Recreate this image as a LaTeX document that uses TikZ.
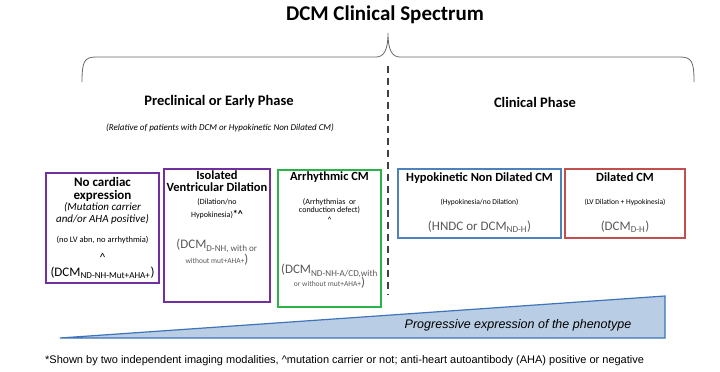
\documentclass[tikz,border=0pt]{standalone}
\usepackage{fontspec}
\setmainfont{Carlito}
\newfontfamily\arialfont{Liberation Sans}
\usetikzlibrary{positioning}

\definecolor{dcmpurple}{HTML}{7030A0}
\definecolor{dcmgreen}{HTML}{2DB24A}
\definecolor{dcmblue}{HTML}{4F81BD}
\definecolor{dcmred}{HTML}{C0504D}
\definecolor{dcmgray}{HTML}{595959}
\definecolor{trifill}{HTML}{B9CDE5}
\definecolor{triedge}{HTML}{3F74B8}

\newcommand{\fsize}[2]{\fontsize{#1}{#2}\selectfont}

\begin{document}
\begin{tikzpicture}[x=1pt,y=-1pt,
    stagebox/.style={draw=#1, line width=1.6pt, inner sep=0pt},
    txt/.style={inner sep=0pt, align=center},
    divider/.style={line width=2pt, color=black!75, dash pattern=on 7pt off 5pt}]
    \fill[white] (0,0) rectangle (720,372);
    \useasboundingbox (0,0) rectangle (720,372);

    % title and brace
    \node[txt, font=\fsize{21}{24}\bfseries] (title) at (385,15) {DCM Clinical Spectrum};
    \draw[color=black!60, line width=0.8pt] (82,82) .. controls (82,62) and (84,57) .. (96,57)
        -- (376,57) .. controls (384,57) and (388,50) .. (388,33)
        .. controls (388,50) and (392,57) .. (400,57) -- (680,57)
        .. controls (692,57) and (694,62) .. (694,82);

    \node[txt, font=\fsize{14.5}{16}\bfseries] (early) at (219,102) {Preclinical or Early Phase};
    \node[txt, font=\fsize{14.5}{16}\bfseries] (clinical) at (535,102) {Clinical Phase};
    \node[txt, font=\fsize{9}{10}\itshape] (relative) at (220,128)
        {(Relative of patients with DCM or Hypokinetic Non Dilated CM)};

    \coordinate (divtop) at (388,66);
    \coordinate (divbot) at (388,295);
    \draw[divider] (divtop) -- (divbot);

    % stages
    \node[stagebox=dcmpurple, minimum width=113, minimum height=110] (noexpr) at (102.5,228) {};
    \node[stagebox=dcmpurple, minimum width=106, minimum height=133] (ivd) at (217,235.5) {};
    \node[stagebox=dcmgreen, minimum width=103, minimum height=137] (acm) at (329.5,238.5) {};
    \node[stagebox=dcmblue, minimum width=163, minimum height=69] (hndc) at (479.5,203.5) {};
    \node[stagebox=dcmred, minimum width=120, minimum height=69] (dcm) at (625,203.5) {};

    \node[txt, font=\fsize{13}{13}\bfseries] at (102.5,189.5) {No cardiac\\expression};
    \node[txt, font=\fsize{11}{11.5}\itshape] at (102.5,213.5) {(Mutation carrier\\and/or AHA positive)};
    \node[txt, font=\fsize{8.5}{9}] at (102.5,240) {(no LV abn, no arrhythmia)};
    \node[txt, font=\fsize{12}{12}] at (102.5,257) {\textasciicircum};
    \node[txt, font=\fsize{13}{13}] at (102.5,273) {(DCM\textsubscript{ND-NH-Mut+AHA+})};

    \node[txt, font=\fsize{12.5}{12}\bfseries] at (217,181) {Isolated\\Ventricular Dilation};
    \node[txt, font=\fsize{8}{13}] at (217,208.5) {(Dilation/no\\Hypokinesia){\fsize{10}{10}\bfseries*\textasciicircum}};
    \node[txt, font=\fsize{13}{15}, color=dcmgray] at (217,252.5)
        {(DCM\textsubscript{D-NH, with or}\\{\fsize{7.5}{8}without mut+AHA+})};

    \node[txt, font=\fsize{12.5}{12}\bfseries] at (329.5,177) {Arrhythmic CM};
    \node[txt, font=\fsize{8}{8.5}] at (329.5,206) {(Arrhythmias~ or\\conduction defect)};
    \node[txt, font=\fsize{8}{8}] at (329.5,220) {\textasciicircum};
    \node[txt, font=\fsize{13}{13}, color=dcmgray] at (329.5,276.5)
        {(DCM\textsubscript{ND-NH-A/CD,with}\\{\fsize{7.5}{8}or without mut+AHA+})};

    \node[txt, font=\fsize{12.5}{12}\bfseries] at (479.5,178) {Hypokinetic Non Dilated CM};
    \node[txt, font=\fsize{7.5}{8}] at (479.5,202) {(Hypokinesia/no Dilation)};
    \node[txt, font=\fsize{13}{13}, color=dcmgray] at (479.5,227) {(HNDC or DCM\textsubscript{ND-H})};

    \node[txt, font=\fsize{12.5}{12}\bfseries] at (625,177) {Dilated CM};
    \node[txt, font=\fsize{7.5}{8}] at (625,202) {(LV Dilation + Hypokinesia)};
    \node[txt, font=\fsize{13}{13}, color=dcmgray] at (625,227) {(DCM\textsubscript{D-H})};

    % phenotype wedge
    \filldraw[fill=trifill, draw=triedge, line width=1.2pt] (60,338) -- (665,296) -- (665,338) -- cycle;
    \node[txt, font=\arialfont\fsize{12.5}{12}\itshape] (pheno) at (518,325) {Progressive expression of the phenotype};

    \node[txt, anchor=west, font=\arialfont\fsize{11}{11}] (note) at (45,361)
        {*Shown by two independent imaging modalities, \textasciicircum mutation carrier or not; anti-heart autoantibody (AHA) positive or negative};
\end{tikzpicture}
\end{document}
